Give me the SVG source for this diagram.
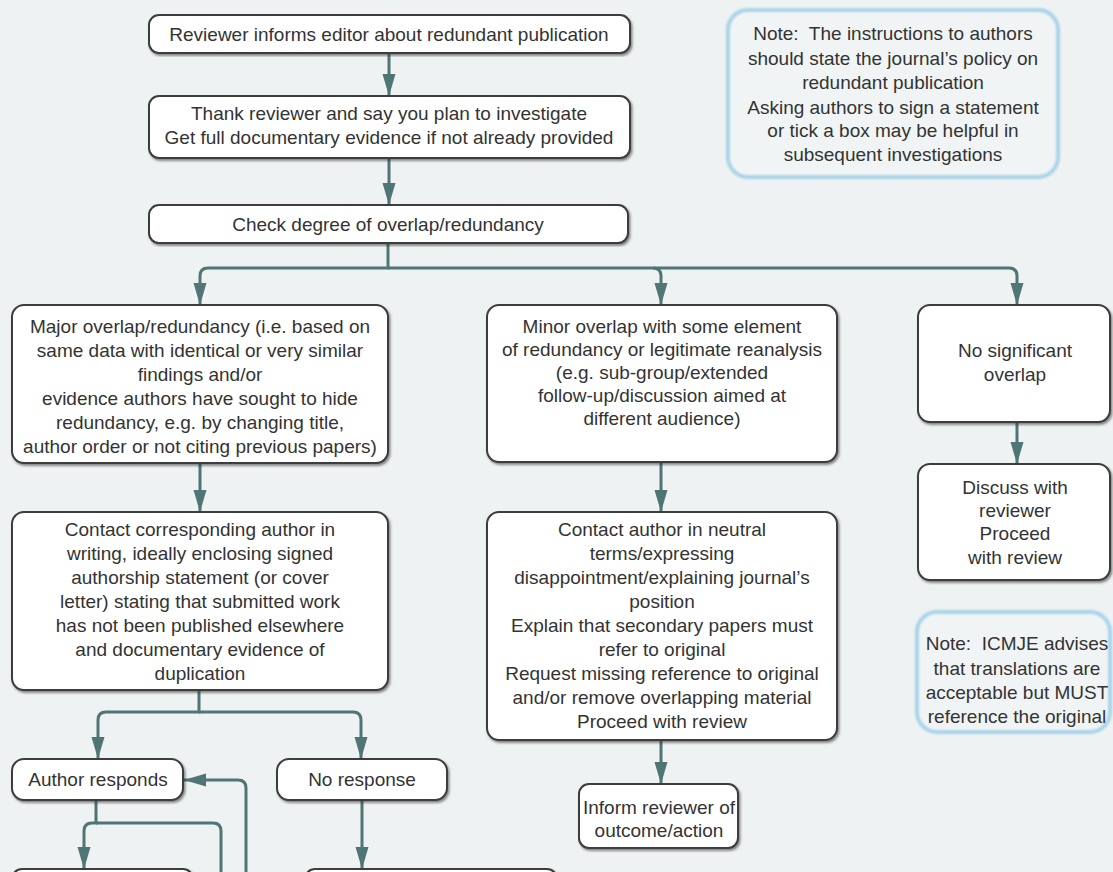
<svg xmlns="http://www.w3.org/2000/svg" width="1113" height="872" viewBox="0 0 1113 872">
<defs>
<style>
.box{fill:#ffffff;stroke:#3c3c3c;stroke-width:2;filter:url(#sh)}
.note{fill:#f1f4f5;stroke:#a6d3e8;stroke-width:4;filter:url(#glow)}
.t{font-family:"Liberation Sans",Arial,sans-serif;font-size:19px;fill:#333333;text-anchor:middle}
.c{fill:none;stroke:#4f7575;stroke-width:3}
.a{marker-end:url(#ah)}
</style>
<filter id="sh" x="-5%" y="-5%" width="110%" height="115%">
<feDropShadow dx="1.5" dy="2" stdDeviation="1" flood-color="#333" flood-opacity="0.55"/>
</filter>
<filter id="glow" x="-5%" y="-5%" width="110%" height="110%">
<feGaussianBlur in="SourceGraphic" stdDeviation="0.8"/>
</filter>
<marker id="ah" markerUnits="userSpaceOnUse" markerWidth="24" markerHeight="14" refX="22" refY="7" orient="auto">
<path d="M0,0.5 L22,7 L0,13.5 Z" fill="#4f7575"/>
</marker>
</defs>
<rect width="1113" height="872" fill="#eef2f2"/>

<g id="connectors">
<path class="c a" d="M389,53 V96"/>
<path class="c a" d="M389,158 V205"/>
<path class="c a" d="M388,243 V268 H208 Q200,268 200,276 V305"/>
<path class="c a" d="M388,268 H1009 Q1017,268 1017,276 V305"/>
<path class="c a" d="M653,268 Q661,268 661,276 V305"/>
<path class="c a" d="M200,463 V512"/>
<path class="c a" d="M661,462 V512"/>
<path class="c a" d="M1017,422 V464"/>
<path class="c a" d="M199,690 V712 H106 Q98,712 98,720 V759"/>
<path class="c a" d="M199,712 H353 Q361,712 361,720 V759"/>
<path class="c a" d="M661,740 V784"/>
<path class="c a" d="M96,800 V823 H92 Q84,823 84,831 V869"/>
<path class="c" d="M96,823 H213 Q221,823 221,831 V880"/>
<path class="c a" d="M246,880 V788 Q246,780 238,780 H184"/>
<path class="c a" d="M362,800 V869"/>
</g>

<g id="n1">
<rect class="box" x="149" y="15" width="481" height="38" rx="10"/>
<text class="t" x="389" y="41">Reviewer informs editor about redundant publication</text>
</g>
<g id="n2">
<rect class="box" x="149" y="96" width="481" height="62" rx="10"/>
<text class="t" x="389" y="120">Thank reviewer and say you plan to investigate</text>
<text class="t" x="389" y="144">Get full documentary evidence if not already provided</text>
</g>
<g id="n3">
<rect class="box" x="149" y="205" width="479" height="38" rx="10"/>
<text class="t" x="388" y="231">Check degree of overlap/redundancy</text>
</g>
<g id="note1">
<rect class="note" x="728" y="10" width="330" height="167" rx="20"/>
<text class="t" x="893" y="40" xml:space="preserve">Note:  The instructions to authors</text>
<text class="t" x="893" y="65">should state the journal’s policy on</text>
<text class="t" x="893" y="89">redundant publication</text>
<text class="t" x="893" y="114">Asking authors to sign a statement</text>
<text class="t" x="893" y="137">or tick a box may be helpful in</text>
<text class="t" x="893" y="161">subsequent investigations</text>
</g>
<g id="major">
<rect class="box" x="12" y="305" width="376" height="158" rx="12"/>
<text class="t" x="200" y="333">Major overlap/redundancy (i.e. based on</text>
<text class="t" x="200" y="357">same data with identical or very similar</text>
<text class="t" x="200" y="381">findings and/or</text>
<text class="t" x="200" y="405">evidence authors have sought to hide</text>
<text class="t" x="200" y="429">redundancy, e.g. by changing title,</text>
<text class="t" x="200" y="453">author order or not citing previous papers)</text>
</g>
<g id="minor">
<rect class="box" x="487" y="305" width="350" height="157" rx="12"/>
<text class="t" x="662" y="333">Minor overlap with some element</text>
<text class="t" x="662" y="356">of redundancy or legitimate reanalysis</text>
<text class="t" x="662" y="379">(e.g. sub-group/extended</text>
<text class="t" x="662" y="402">follow-up/discussion aimed at</text>
<text class="t" x="662" y="425">different audience)</text>
</g>
<g id="nosig">
<rect class="box" x="918" y="305" width="192" height="117" rx="12"/>
<text class="t" x="1015" y="357">No significant</text>
<text class="t" x="1015" y="381">overlap</text>
</g>
<g id="discuss">
<rect class="box" x="918" y="464" width="192" height="116" rx="12"/>
<text class="t" x="1015" y="494">Discuss with</text>
<text class="t" x="1015" y="517">reviewer</text>
<text class="t" x="1015" y="540">Proceed</text>
<text class="t" x="1015" y="564">with review</text>
</g>
<g id="contact">
<rect class="box" x="12" y="512" width="376" height="178" rx="12"/>
<text class="t" x="200" y="536">Contact corresponding author in</text>
<text class="t" x="200" y="560">writing, ideally enclosing signed</text>
<text class="t" x="200" y="584">authorship statement (or cover</text>
<text class="t" x="200" y="608">letter) stating that submitted work</text>
<text class="t" x="200" y="632">has not been published elsewhere</text>
<text class="t" x="200" y="656">and documentary evidence of</text>
<text class="t" x="200" y="680">duplication</text>
</g>
<g id="mincontact">
<rect class="box" x="487" y="512" width="350" height="228" rx="12"/>
<text class="t" x="662" y="536">Contact author in neutral</text>
<text class="t" x="662" y="560">terms/expressing</text>
<text class="t" x="662" y="584">disappointment/explaining journal’s</text>
<text class="t" x="662" y="608">position</text>
<text class="t" x="662" y="632">Explain that secondary papers must</text>
<text class="t" x="662" y="656">refer to original</text>
<text class="t" x="662" y="680">Request missing reference to original</text>
<text class="t" x="662" y="704">and/or remove overlapping material</text>
<text class="t" x="662" y="728">Proceed with review</text>
</g>
<g id="note2">
<rect class="note" x="917" y="612" width="193" height="120" rx="20"/>
<text class="t" x="1017" y="650" xml:space="preserve">Note:  ICMJE advises</text>
<text class="t" x="1017" y="675">that translations are</text>
<text class="t" x="1017" y="699">acceptable but MUST</text>
<text class="t" x="1017" y="723">reference the original</text>
</g>
<g id="inform">
<rect class="box" x="579" y="784" width="159" height="64" rx="10"/>
<text class="t" x="659" y="814">Inform reviewer of</text>
<text class="t" x="659" y="837">outcome/action</text>
</g>
<g id="authresp">
<rect class="box" x="12" y="759" width="171" height="41" rx="12"/>
<text class="t" x="98" y="786">Author responds</text>
</g>
<g id="noresp">
<rect class="box" x="277" y="759" width="170" height="41" rx="12"/>
<text class="t" x="362" y="786">No response</text>
</g>
<g id="bottomL">
<rect class="box" x="12" y="869" width="181" height="40" rx="10"/>
</g>
<g id="bottomR">
<rect class="box" x="305" y="869" width="252" height="40" rx="10"/>
</g>
</svg>
